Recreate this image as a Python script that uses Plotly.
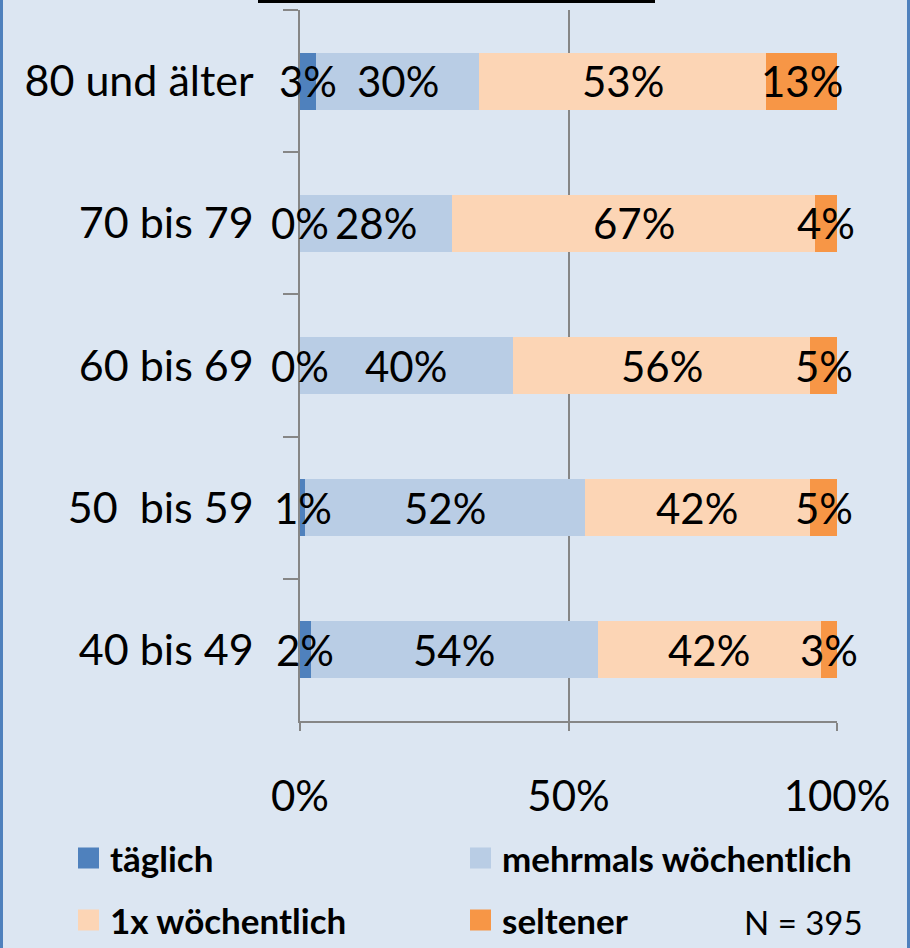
import plotly.graph_objects as go

# Altersgruppen (oben nach unten) und Anteile je Häufigkeit
categories = ["80 und älter", "70 bis 79", "60 bis 69", "50\u00a0 bis 59", "40 bis 49"]
series_names = ["täglich", "mehrmals wöchentlich", "1x wöchentlich", "seltener"]
taeglich = [3, 0, 0, 1, 2]
mehrmals = [30, 28, 40, 52, 54]
einmal = [53, 67, 56, 42, 42]
seltener = [13, 4, 5, 5, 3]
x_ticks = [0, 50, 100]
x_tick_labels = ["0%", "50%", "100%"]

colors = ["#4f81bd", "#b9cde5", "#fcd5b5", "#f79646"]
bg = "#dce6f2"
grid = "#868686"
font_family = "Lato"

W, H = 910, 948
ML, MR, MT, MB = 300, 73, 10, 227


def px(x):
    # Pixel (von links) -> paper-Koordinate
    return (x - ML) / (W - ML - MR)


def py(y):
    # Pixel (von oben) -> paper-Koordinate
    return (H - MB - y) / (H - MT - MB)


series = [taeglich, mehrmals, einmal, seltener]

fig = go.Figure()
for i, (name, vals) in enumerate(zip(series_names, series)):
    fig.add_trace(go.Bar(
        y=categories, x=vals, name=name, orientation="h",
        marker=dict(color=colors[i], line=dict(width=0)),
        hoverinfo="skip", showlegend=False,
    ))

# Datenbeschriftungen in der Mitte jedes Segments (100%-gestapelt)
annotations = []
for j, cat in enumerate(categories):
    total = sum(s[j] for s in series)
    left = 0
    for s in series:
        w = s[j] / total * 100
        annotations.append(dict(
            x=left + w / 2, y=cat, xref="x", yref="y", text=f"{s[j]}%",
            showarrow=False, font=dict(size=42, color="black", family=font_family),
        ))
        left += w

# Legende 2x2 unten
shapes = []
legend_cols = [78, 470]
legend_rows = [858, 920]
for i, name in enumerate(series_names):
    x0 = legend_cols[i % 2]
    yc = legend_rows[i // 2]
    shapes.append(dict(
        type="rect", xref="paper", yref="paper",
        x0=px(x0), x1=px(x0 + 21), y0=py(yc - 10.5), y1=py(yc + 10.5),
        fillcolor=colors[i], line=dict(width=0),
    ))
    annotations.append(dict(
        x=px(x0 + 30), y=py(yc), xref="paper", yref="paper", text=f"<b>{name}</b>",
        showarrow=False, xanchor="left", yanchor="middle",
        font=dict(size=35, color="black", family=font_family),
    ))

annotations.append(dict(
    x=px(803), y=py(922), xref="paper", yref="paper", text="N = 395",
    showarrow=False, xanchor="center", yanchor="middle", borderpad=0,
    font=dict(size=33, color="black", family=font_family),
))

# Titelunterstreichung oben (angeschnitten) und seitlicher Rahmen
shapes += [
    dict(type="line", xref="paper", yref="paper", x0=px(258), x1=px(655),
         y0=py(1.5), y1=py(1.5), line=dict(color="black", width=3)),
    dict(type="line", xref="paper", yref="paper", x0=px(1.5), x1=px(1.5),
         y0=py(H), y1=py(0), line=dict(color="#4f81bd", width=3)),
    dict(type="line", xref="paper", yref="paper", x0=px(908.5), x1=px(908.5),
         y0=py(H), y1=py(0), line=dict(color="#4f81bd", width=3)),
]

fig.update_layout(
    barmode="stack", barnorm="percent", bargap=0.6,
    width=W, height=H,
    margin=dict(l=ML, r=MR, t=MT, b=MB),
    paper_bgcolor=bg, plot_bgcolor=bg,
    font=dict(family=font_family, color="black"),
    annotations=annotations,
    shapes=shapes,
    showlegend=False,
)

fig.update_xaxes(
    range=[0, 100], tickvals=x_ticks, ticktext=x_tick_labels,
    showgrid=True, gridcolor=grid, gridwidth=1.5, zeroline=False,
    showline=True, linecolor=grid, linewidth=1.5,
    ticks="outside", ticklen=8, tickcolor=grid, tickwidth=1.5,
    tickfont=dict(size=42), ticklabelstandoff=30,
)
fig.update_yaxes(
    categoryorder="array", categoryarray=categories, autorange="reversed",
    showgrid=False, zeroline=False, showline=True, linecolor=grid, linewidth=1.5,
    ticks="outside", tickson="boundaries", ticklen=15, tickcolor=grid, tickwidth=1.5,
    tickfont=dict(size=43), ticklabelstandoff=36,
)

fig.write_html("out.html", config={"displayModeBar": False},
               post_script="document.body.style.margin='0';")
